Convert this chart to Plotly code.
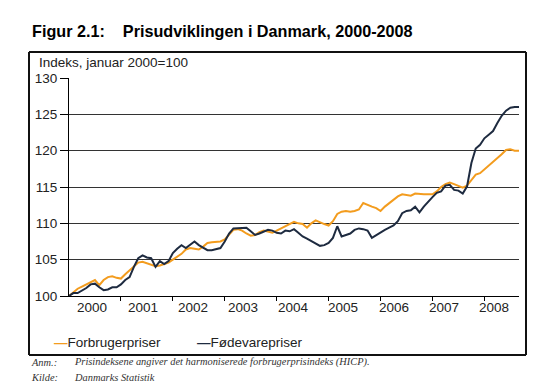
import plotly.graph_objects as go

# ---------------- data (monthly, Jan 2000 - Sep 2008) ----------------
forbrugerpriser = [
    100.0, 100.5, 101.0, 101.3, 101.6, 102.0, 102.2, 101.5, 102.2, 102.6, 102.7, 102.5,
    102.4, 103.0, 103.5, 104.0, 104.6, 104.7, 104.5, 104.3, 104.1, 104.2, 104.4, 104.6,
    105.0, 105.4, 105.8, 106.4, 106.6, 106.5, 106.4, 106.8, 107.3, 107.4, 107.5, 107.5,
    107.8, 108.5, 109.1, 109.2, 109.0, 108.6, 108.3, 108.4, 108.8, 109.0, 108.8, 108.7,
    109.0, 109.3, 109.7, 110.0, 110.2, 110.0, 109.9, 109.4, 110.0, 110.4, 110.1, 109.9,
    109.7, 110.3, 111.3, 111.6, 111.7, 111.6, 111.7, 111.9, 112.8, 112.5, 112.3, 112.1,
    111.7, 112.3, 112.8, 113.3, 113.7, 114.0, 113.9, 113.8, 114.1, 114.0, 114.0, 114.0,
    114.0, 114.4, 115.0, 115.4, 115.6, 115.4, 115.1, 114.9, 115.2, 116.0, 116.7, 116.9,
    117.4, 118.0, 118.4, 118.9, 119.5, 120.1, 120.2, 120.0, 120.0,
]
foedevarepriser = [
    100.0, 100.4, 100.4, 100.7, 101.1, 101.6, 101.7, 101.2, 100.8, 100.9, 101.2, 101.2,
    101.6, 102.2, 102.6, 104.0, 105.2, 105.6, 105.3, 105.2, 104.0, 104.8, 104.4, 104.8,
    105.9, 106.5, 107.0, 106.6, 107.0, 107.5, 107.0, 106.6, 106.3, 106.3, 106.5, 106.6,
    107.5, 108.6, 109.3, 109.3, 109.3, 109.4, 108.9, 108.4, 108.6, 108.9, 109.1, 109.0,
    108.7, 108.6, 109.0, 108.9, 109.2, 108.7, 108.2, 107.9, 107.6, 107.3, 106.9, 107.0,
    107.3, 108.0, 109.6, 108.2, 108.4, 108.6, 109.1, 109.3, 109.2, 109.0, 108.0, 108.4,
    108.8, 109.1, 109.4, 109.7, 110.3, 111.4, 111.7, 111.8, 112.3, 111.5, 112.3, 113.0,
    113.6, 114.2, 114.4, 115.2, 115.3, 114.6, 114.5, 114.1, 115.1, 118.3, 120.3, 120.8,
    121.7, 122.2, 122.7, 123.8, 124.8, 125.5, 125.9, 126.0, 126.0,
]
years = ["2000", "2001", "2002", "2003", "2004", "2005", "2006", "2007", "2008"]
y_ticks = [100, 105, 110, 115, 120, 125, 130]
series_names = ["Forbrugerpriser", "Fødevarepriser"]

months = list(range(len(forbrugerpriser)))

ORANGE = "#F39C1E"
NAVY = "#1E2B40"
FRAME = "#111111"

# the page body has an 8px margin; layout below is in reference-pixel coordinates
OFF = 8
W, H = 560 - OFF, 391 - OFF
PL_L, PL_R, PL_T, PL_B = 69, 519, 78, 296          # plotting area
PW, PH = PL_R - PL_L, PL_B - PL_T
BOX = (29, 526, 52, 355)                            # outer frame l, r, t, b


def px_x(p):
    return (p - PL_L) / PW


def px_y(p):
    return (PL_B - p) / PH


fig = go.Figure()
fig.add_trace(go.Scatter(x=months, y=forbrugerpriser, mode="lines", name=series_names[0],
                         line=dict(color=ORANGE, width=2), showlegend=False))
fig.add_trace(go.Scatter(x=months, y=foedevarepriser, mode="lines", name=series_names[1],
                         line=dict(color=NAVY, width=2), showlegend=False))

label_pos = [5.4 + 11.6 * k for k in range(len(years))]
year_starts = [12 * k for k in range(1, len(years))]

fig.update_layout(
    width=W, height=H,
    margin=dict(l=PL_L - OFF, r=560 - PL_R, t=PL_T - OFF, b=391 - PL_B),
    plot_bgcolor="white",
    font=dict(family="Liberation Sans, Arial, sans-serif", size=13.5, color="#222"),
    xaxis=dict(
        range=[0, 104], tickmode="array", tickvals=year_starts,
        ticktext=[""] * len(year_starts),
        ticks="outside", ticklen=4, tickcolor="black", tickwidth=1,
        showgrid=False, zeroline=False,
        showline=True, linecolor="black", linewidth=1,
    ),
    yaxis=dict(
        range=[100, 130], tickmode="array", tickvals=y_ticks,
        ticks="outside", ticklen=8, tickcolor="black", tickwidth=1,
        showgrid=True, gridcolor="#333", gridwidth=1, zeroline=False,
        showline=True, linecolor="black", linewidth=1,
        tickfont=dict(size=13.5, color="#222"),
    ),
)

ann = []
for yr, pos in zip(years, label_pos):
    ann.append(dict(text=yr, x=pos, xref="x", y=px_y(307), yref="paper",
                    xanchor="center", yanchor="middle",
                    font=dict(size=13.5, color="#222")))
ann.append(dict(text="<b>Figur 2.1:\u00a0\u00a0\u00a0 Prisudviklingen i Danmark, 2000-2008</b>",
                x=px_x(30), y=px_y(31), xanchor="left", yanchor="middle",
                font=dict(size=16.2, color="black")))
ann.append(dict(text="Indeks, januar 2000=100", x=px_x(37), y=px_y(62),
                xanchor="left", yanchor="middle", font=dict(size=13.5, color="#222")))
ann.append(dict(text=f"<span style='color:{ORANGE}'><b>—</b></span>{series_names[0]}",
                x=px_x(52), y=px_y(342), xanchor="left", yanchor="middle",
                font=dict(size=13.5, color="#222")))
ann.append(dict(text=f"<span style='color:{NAVY}'><b>—</b></span>{series_names[1]}",
                x=px_x(195), y=px_y(342), xanchor="left", yanchor="middle",
                font=dict(size=13.5, color="#222")))
foot_font = dict(family="Liberation Serif, Times New Roman, serif", size=10.4, color="#333")
ann.append(dict(text="<i>Anm.:</i>", x=px_x(29), y=px_y(362), xanchor="left", yanchor="middle", font=foot_font))
ann.append(dict(text="<i>Prisindeksene angiver det harmoniserede forbrugerprisindeks (HICP).</i>",
                x=px_x(72), y=px_y(362), xanchor="left", yanchor="middle", font=foot_font))
ann.append(dict(text="<i>Kilde:</i>", x=px_x(29), y=px_y(377), xanchor="left", yanchor="middle", font=foot_font))
ann.append(dict(text="<i>Danmarks Statistik</i>", x=px_x(72), y=px_y(377), xanchor="left", yanchor="middle", font=foot_font))
for a in ann:
    a.setdefault("xref", "paper")
    a.setdefault("yref", "paper")
    a["showarrow"] = False
    fig.add_annotation(**a)

# outer frame around the chart, drawn as four separate border lines
bl, br, bt, bb = px_x(BOX[0]), px_x(BOX[1]), px_y(BOX[2]), px_y(BOX[3])
for (x0, y0, x1, y1) in [(bl, bt, br, bt), (bl, bb, br, bb), (bl, bb, bl, bt), (br, bb, br, bt)]:
    fig.add_shape(type="line", xref="paper", yref="paper",
                  x0=x0, y0=y0, x1=x1, y1=y1,
                  line=dict(color=FRAME, width=2))

fig.write_html("out.html")
